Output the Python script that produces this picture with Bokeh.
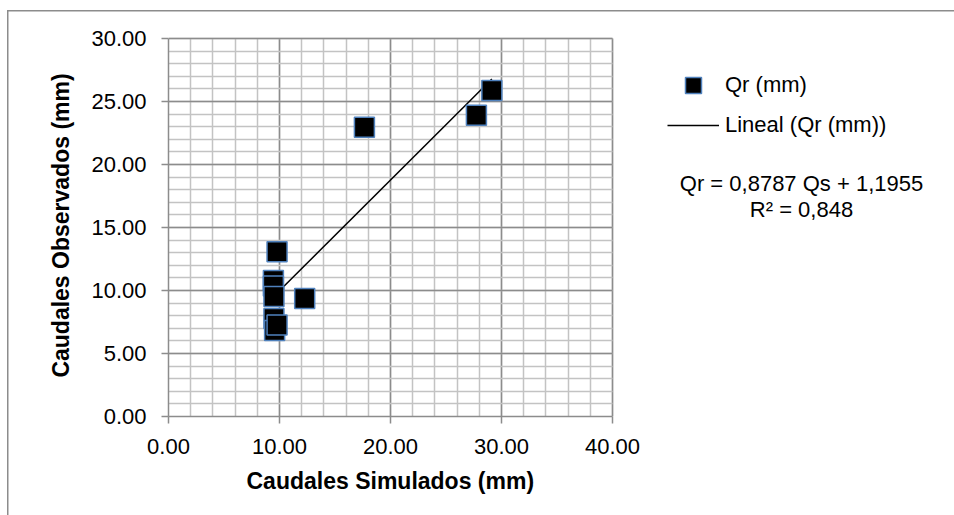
from bokeh.plotting import figure
from bokeh.models import (Range1d, FixedTicker, PrintfTickFormatter, Legend, LegendItem, Label,
                          Title)
from bokeh.embed import file_html
from bokeh.resources import INLINE

# Data
qs_sim = [29.13, 27.74, 17.65, 9.78, 9.45, 9.45, 9.50, 12.27, 9.50, 9.56, 9.78]
qr_obs = [25.87, 23.91, 22.96, 13.07, 10.80, 10.36, 9.52, 9.36, 7.77, 6.82, 7.27]
slope = 0.8787
intercept = 1.1955
eq_lines = ["Qr = 0,8787 Qs + 1,1955", "R² = 0,848"]
x_ticks = [0, 10, 20, 30, 40]
y_ticks = [0, 5, 10, 15, 20, 25, 30]
x_minor = list(range(0, 41, 2))
y_minor = list(range(0, 31, 1))
x_label = "Caudales Simulados (mm)"
y_label = "Caudales Observados (mm)"
series_name = "Qr (mm)"
trend_name = "Lineal (Qr (mm))"

FONT = "Liberation Sans"
MAJOR = "#8c8c8c"
MINOR = "#c3c3c3"

W, H = 954, 515
LEFT, TOP, BOTTOM = 168, 34, 99
AXIS_W = 444          # pixel width of the 0..40 axis
AXIS_H = 378          # pixel height of the 0..30 axis
x_end = x_ticks[-1] * (W - LEFT) / AXIS_W
y_end = y_ticks[-1] * (H - TOP - BOTTOM) / AXIS_H

p = figure(width=W, height=H, output_backend="svg", toolbar_location=None,
           x_range=Range1d(0, x_end), y_range=Range1d(0, y_end),
           min_border_left=LEFT, min_border_right=0, min_border_top=TOP,
           min_border_bottom=BOTTOM)
p.background_fill_color = "white"
p.border_fill_color = None
p.outline_line_color = None
p.styles = {
    "background-color": "white",
    "background-image": "linear-gradient(#8c8c8c,#8c8c8c), linear-gradient(#8c8c8c,#8c8c8c)",
    "background-position": "7px 10px, 7px 10px",
    "background-size": "1.5px 100%, 100% 1.5px",
    "background-repeat": "no-repeat",
}

p.xaxis.ticker = FixedTicker(ticks=x_ticks, minor_ticks=x_minor)
p.yaxis.ticker = FixedTicker(ticks=y_ticks, minor_ticks=y_minor)
p.xaxis.bounds = (x_ticks[0], x_ticks[-1])
p.yaxis.bounds = (y_ticks[0], y_ticks[-1])
for ax in (p.xaxis, p.yaxis):
    ax.formatter = PrintfTickFormatter(format="%.2f")
    ax.axis_line_color = MAJOR
    ax.axis_line_width = 1.5
    ax.major_tick_line_color = MAJOR
    ax.major_tick_line_width = 1.5
    ax.major_tick_out = 7
    ax.major_tick_in = 0
    ax.minor_tick_out = 0
    ax.minor_tick_in = 0
    ax.major_label_text_font = FONT
    ax.major_label_text_font_size = "22px"
    ax.major_label_text_color = "black"
    ax.axis_label_text_font = FONT
    ax.axis_label_text_font_size = "23px"
    ax.axis_label_text_font_style = "bold"
    ax.axis_label_text_color = "black"
p.yaxis.axis_label = y_label
p.xaxis.major_label_standoff = 15
p.yaxis.major_label_standoff = 15
p.yaxis.axis_label_standoff = 14

# x-axis title, centred under the 0..40 axis (the frame extends further right for the legend)
x_title_w = 288
p.add_layout(Title(text=x_label, align="left", offset=AXIS_W / 2 - x_title_w / 2,
                   vertical_align="top", standoff=22, text_font=FONT, text_font_size="23px",
                   text_font_style="bold", text_color="black"), "below")

for g in (p.xgrid, p.ygrid):
    g.grid_line_color = MAJOR
    g.grid_line_width = 1.5
    g.minor_grid_line_color = MINOR
    g.minor_grid_line_width = 1.5
    g.level = "underlay"
p.xgrid.cross_bounds = (y_ticks[0], y_ticks[-1])
p.ygrid.cross_bounds = (x_ticks[0], x_ticks[-1])

# Trend line (Excel linear trendline, from min to max of the data)
xmin, xmax = min(qs_sim), max(qs_sim)
ln = p.line([xmin, xmax], [slope * xmin + intercept, slope * xmax + intercept],
            line_color="black", line_width=1.5)
sc = p.scatter(qs_sim, qr_obs, marker="square", size=20, fill_color="black",
               line_color="#4f81bd", line_width=1.5)

legend = Legend(items=[LegendItem(label=series_name, renderers=[sc]),
                       LegendItem(label=trend_name, renderers=[ln])],
                location=(499, 271), glyph_width=52, glyph_height=40, label_height=40,
                spacing=0, padding=0, margin=0, label_standoff=6,
                border_line_color=None, background_fill_alpha=0,
                label_text_font=FONT, label_text_font_size="22px", label_text_color="black")
p.add_layout(legend)

for i, t in enumerate(eq_lines):
    p.add_layout(Label(x=633, y=233 - 26 * i, x_units="screen", y_units="screen", text=t,
                       text_align="center", text_baseline="middle", text_font=FONT,
                       text_font_size="22px", text_color="black"))

open("out.html", "w").write(file_html(p, INLINE))
